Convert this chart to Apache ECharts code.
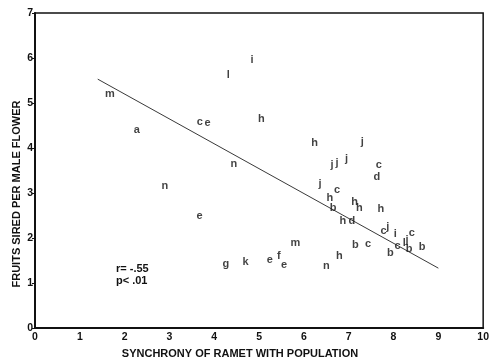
<!DOCTYPE html>
<html>
<head>
<meta charset="utf-8">
<script src="https://cdn.jsdelivr.net/npm/echarts@6/dist/echarts.min.js"></script>
<style>html,body{margin:0;padding:0;background:#fff}#c{width:492px;height:361px}</style>
</head>
<body>
<div id="c"></div>
<script>
var pointX = [1.67,2.27,3.68,3.85,4.31,4.84,5.05,4.44,2.90,3.67,4.26,4.70,5.24,5.44,5.56,5.81,6.24,7.30,6.63,6.74,6.95,7.67,7.63,6.36,6.74,6.58,6.65,7.13,7.24,7.72,6.87,7.07,7.78,7.87,8.04,8.41,7.15,7.43,8.09,8.30,8.24,8.35,8.64,7.93,6.79,6.50];
var pointY = [5.19,4.40,4.58,4.56,5.62,5.96,4.64,3.64,3.16,2.50,1.42,1.47,1.51,1.61,1.40,1.90,4.12,4.14,3.62,3.67,3.75,3.62,3.36,3.20,3.07,2.88,2.66,2.79,2.67,2.64,2.38,2.38,2.16,2.25,2.10,2.12,1.84,1.87,1.82,1.96,1.88,1.75,1.79,1.67,1.61,1.38];
var pointLabel = ['m','a','c','e','l','i','h','n','n','e','g','k','e','f','e','m','h','j','j','j','j','c','d','j','c','h','b','h','h','h','h','d','c','j','i','c','b','c','c','j','l','b','b','b','h','n'];
var fitX = [1.4, 9.0];
var fitY = [5.53, 1.33];
var xTicks = [0,1,2,3,4,5,6,7,8,9,10];
var yTicks = [0,1,2,3,4,5,6,7];
var xTitle = 'SYNCHRONY OF RAMET WITH POPULATION';
var yTitle = 'FRUITS SIRED PER MALE FLOWER';
var statText = ['r= -.55', 'p< .01'];

var FONT = '"Liberation Sans", Arial, sans-serif';
var pts = pointX.map(function(x,i){ return [x, pointY[i], pointLabel[i]]; });
var fit = fitX.map(function(x,i){ return [x, fitY[i]]; });

var chart = echarts.init(document.getElementById('c'));
chart.setOption({
  animation: false,
  backgroundColor: '#fff',
  grid: { left: 35, right: 8, top: 13, bottom: 33, show: true, borderColor: '#111', borderWidth: 1.5, backgroundColor: 'transparent' },
  xAxis: {
    type: 'value', min: 0, max: 10, interval: 1,
    axisLine: { onZero: false, lineStyle: { color: '#111', width: 2 } },
    axisTick: { show: false },
    splitLine: { show: false },
    axisLabel: { color: '#111', fontFamily: FONT, fontWeight: 'bold', fontSize: 10.5, margin: 4,
      formatter: function(v){ return xTicks.indexOf(v) >= 0 ? String(v) : ''; } }
  },
  yAxis: {
    type: 'value', min: 0, max: 7, interval: 1,
    axisLine: { onZero: false, lineStyle: { color: '#111', width: 2 } },
    axisTick: { show: true, length: 3, lineStyle: { color: '#111', width: 1 } },
    splitLine: { show: false },
    axisLabel: { color: '#111', fontFamily: FONT, fontWeight: 'bold', fontSize: 10.5, margin: 2,
      formatter: function(v){ return yTicks.indexOf(v) >= 0 ? String(v) : ''; } }
  },
  series: [
    { type: 'line', data: fit, symbol: 'none', lineStyle: { color: '#222', width: 0.9 }, silent: true },
    { type: 'scatter', data: pts, symbolSize: 0.01,
      itemStyle: { color: 'transparent' },
      label: { show: true, position: 'inside', color: '#111', fontFamily: FONT, fontWeight: 'bold', fontSize: 11,
        formatter: function(p){ return p.data[2]; } } }
  ],
  graphic: [
    { type: 'text', x: 240, y: 354, style: { text: xTitle, fill: '#111', font: 'bold 11px ' + FONT, align: 'center', verticalAlign: 'middle' } },
    { type: 'text', x: 17, y: 194, rotation: Math.PI/2, style: { text: yTitle, fill: '#111', font: 'bold 11px ' + FONT, align: 'center', verticalAlign: 'middle' } },
    { type: 'text', x: 116, y: 269, style: { text: statText[0], fill: '#111', font: 'bold 11px ' + FONT, verticalAlign: 'middle' } },
    { type: 'text', x: 116, y: 281, style: { text: statText[1], fill: '#111', font: 'bold 11px ' + FONT, verticalAlign: 'middle' } }
  ]
});
</script>
</body>
</html>
